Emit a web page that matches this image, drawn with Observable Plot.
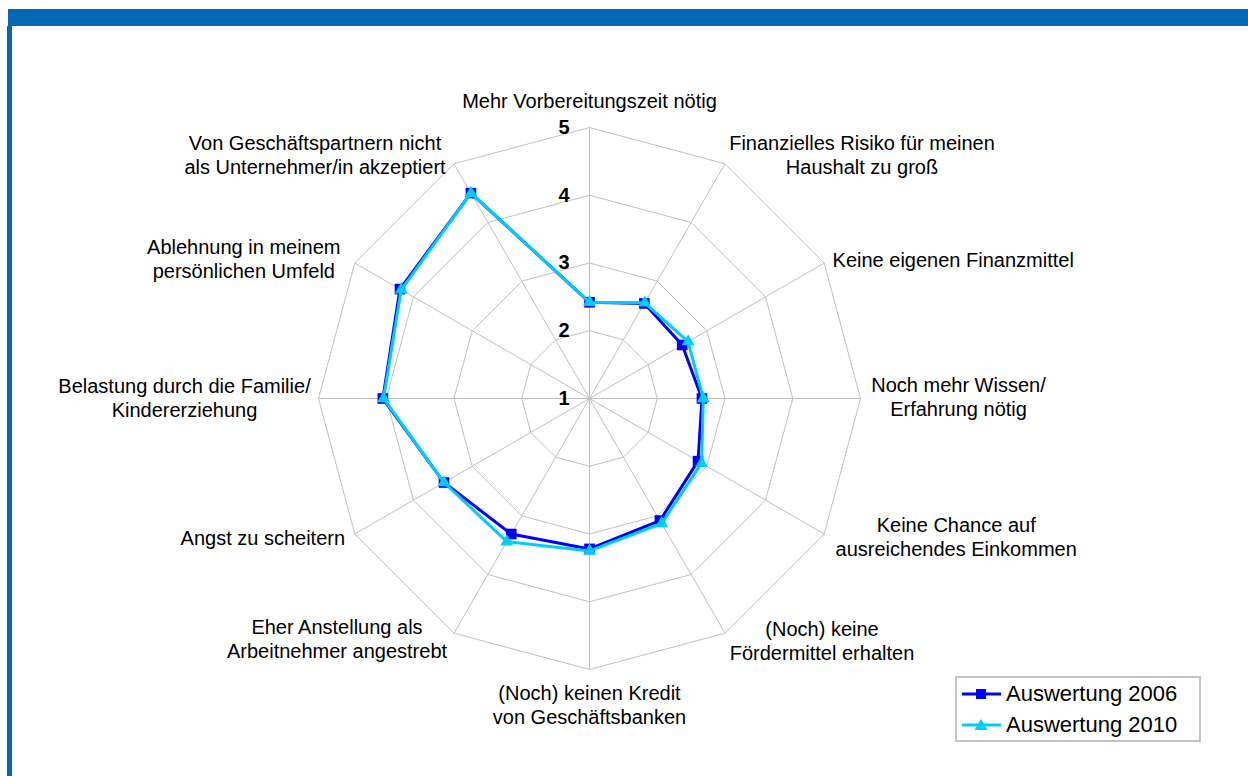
<!DOCTYPE html>
<html>
<head>
<meta charset="utf-8">
<script src="https://cdn.jsdelivr.net/npm/d3@7"></script>
<script src="https://cdn.jsdelivr.net/npm/@observablehq/plot@0.6"></script>
<style>
  body { margin: 0; background: #fff; font-family: "Liberation Sans", Arial, sans-serif; }
  #wrap { position: relative; width: 1248px; height: 776px; overflow: hidden; background: #fff; }
  #chart { position: absolute; left: 0; top: 0; }
  .band { position: absolute; left: 8px; top: 9px; width: 1240px; height: 17px; background: #0168B3; }
  .bar { position: absolute; left: 7px; top: 26px; width: 5px; height: 750px; background: #0168B3; }
  #legend { position: absolute; left: 955px; top: 676px; width: 246px; box-sizing: border-box;
            border: 2px solid #c4c4c4; background: #fff; }
  #legend .row { display: flex; align-items: center; height: 31px; font-size: 22px; color: #000; }
  #legend svg { margin-left: 5px; margin-right: 5px; }
</style>
</head>
<body>
<div id="wrap">
  <div id="chart"></div>
  <div class="band"></div>
  <div class="bar"></div>
  <div id="legend"></div>
</div>
<script>
// ---------- data ----------
const categories = [
  "Mehr Vorbereitungszeit nötig",
  "Finanzielles Risiko für meinen\nHaushalt zu groß",
  "Keine eigenen Finanzmittel",
  "Noch mehr Wissen/\nErfahrung nötig",
  "Keine Chance auf\nausreichendes Einkommen",
  "(Noch) keine\nFördermittel erhalten",
  "(Noch) keinen Kredit\nvon Geschäftsbanken",
  "Eher Anstellung als\nArbeitnehmer angestrebt",
  "Angst zu scheitern",
  "Belastung durch die Familie/\nKindererziehung",
  "Ablehnung in meinem\npersönlichen Umfeld",
  "Von Geschäftspartnern nicht\nals Unternehmer/in akzeptiert"
];
const series = ["Auswertung 2006", "Auswertung 2010"];
const values2006 = [2.42, 2.62, 2.58, 2.66, 2.85, 3.08, 3.22, 3.31, 3.48, 4.05, 4.23, 4.50];
const values2010 = [2.42, 2.63, 2.68, 2.68, 2.91, 3.13, 3.25, 3.44, 3.48, 4.04, 4.21, 4.50];
const levels = [1, 2, 3, 4, 5];
const tickLabels = ["1", "2", "3", "4", "5"];

// ---------- layout ----------
const W = 1248, H = 776;
const cx = 589, cy = 398;      // pixel centre of the radar
const k = 67.75;               // pixels per unit
const vMin = 1, vMax = 5;
const colors = ["#0000FF", "#00CCFF"];
// label block-centre offsets (pixels) from the outer vertex of each spoke
const labelOffsets = [
  [0, -27], [137, -9], [129, -4], [98, -2], [132, 2], [97, 7],
  [0, 35], [-117, 5], [-92, 3], [-134, -1], [-111, -5], [-139, -9]
];

const n = categories.length;
const ang = i => i * 2 * Math.PI / n;
const px = (v, i) => (v - vMin) * Math.sin(ang(i));
const py = (v, i) => (v - vMin) * Math.cos(ang(i));

const rings = [];
levels.filter(l => l > vMin).forEach(l => {
  for (let i = 0; i <= n; i++) rings.push({level: l, x: px(l, i % n), y: py(l, i % n)});
});
const spokes = categories.map((c, i) => ({x2: px(vMax, i), y2: py(vMax, i)}));
const pts = (vals, s) => vals.map((v, i) => ({series: s, x: px(v, i), y: py(v, i)}));
const p2006 = pts(values2006, series[0]);
const p2010 = pts(values2010, series[1]);
const labels = categories.map((c, i) => ({
  text: c,
  x: px(vMax, i) + labelOffsets[i][0] / k,
  y: py(vMax, i) - labelOffsets[i][1] / k
}));
const ticks = levels.map((l, j) => ({text: tickLabels[j], x: -20 / k, y: l - vMin}));

const font = "Liberation Sans, Arial, sans-serif";
const chart = Plot.plot({
  width: W, height: H, margin: 0,
  x: {type: "linear", domain: [-cx / k, (W - cx) / k], axis: null},
  y: {type: "linear", domain: [-(H - cy) / k, cy / k], axis: null},
  style: {background: "transparent", fontFamily: font},
  marks: [
    Plot.line(rings, {x: "x", y: "y", z: "level", stroke: "#c0c0c0", strokeWidth: 1, curve: "linear"}),
    Plot.link(spokes, {x1: 0, y1: 0, x2: "x2", y2: "y2", stroke: "#c0c0c0", strokeWidth: 1}),
    Plot.line(p2006, {x: "x", y: "y", stroke: colors[0], strokeWidth: 3, curve: "linear-closed"}),
    Plot.dot(p2006, {x: "x", y: "y", symbol: "square", r: 6, fill: colors[0], stroke: "none"}),
    Plot.line(p2010, {x: "x", y: "y", stroke: colors[1], strokeWidth: 3, curve: "linear-closed"}),
    Plot.dot(p2010, {x: "x", y: "y", symbol: "triangle", r: 4.8, fill: colors[1], stroke: "none"}),
    Plot.text(ticks, {x: "x", y: "y", text: "text", textAnchor: "end", fontSize: 20, fontWeight: "bold", fill: "#000", fontFamily: font}),
    Plot.text(labels, {x: "x", y: "y", text: "text", textAnchor: "middle", lineAnchor: "middle", lineHeight: 1.2, fontSize: 20, fill: "#000", fontFamily: font})
  ]
});
document.getElementById("chart").appendChild(chart);

// ---------- legend ----------
const legend = document.getElementById("legend");
series.forEach((s, j) => {
  const row = document.createElement("div");
  row.className = "row";
  const sym = j === 0
    ? `<rect x="14" y="5" width="10" height="10" fill="${colors[j]}"/>`
    : `<path d="M19,4 L25.5,15 L12.5,15 Z" fill="${colors[j]}"/>`;
  row.innerHTML = `<svg width="39" height="20" viewBox="0 0 39 20"><line x1="0" y1="10" x2="39" y2="10" stroke="${colors[j]}" stroke-width="3"/>${sym}</svg><span>${s}</span>`;
  legend.appendChild(row);
});
</script>
</body>
</html>
